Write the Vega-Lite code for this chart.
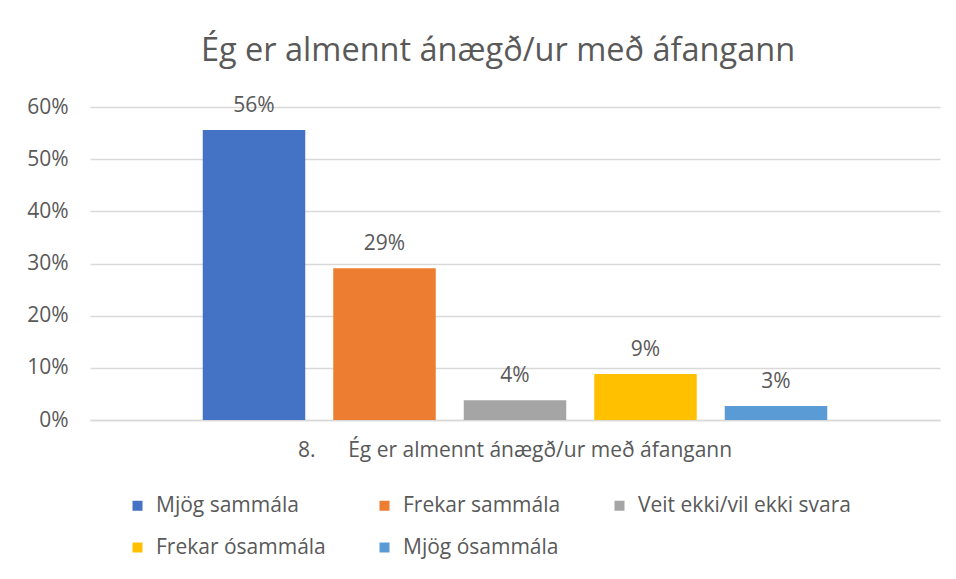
{
  "$schema": "https://vega.github.io/schema/vega-lite/v6.json",
  "width": 850,
  "height": 313,
  "autosize": {"type": "none"},
  "padding": {"left": 90, "top": 107, "right": 16, "bottom": 159},
  "background": "white",
  "config": {
    "font": "Open Sans",
    "view": {"stroke": null}
  },
  "title": {
    "text": "Ég er almennt ánægð/ur með áfangann",
    "fontSize": 32.5,
    "fontWeight": "normal",
    "color": "#595959",
    "anchor": "middle",
    "dx": -17,
    "offset": 27
  },
  "data": {
    "values": [
      {"q": "8.\u00a0\u00a0\u00a0\u00a0\u00a0\u00a0Ég er almennt ánægð/ur með áfangann", "resp": "Mjög sammála", "v": 0.556},
      {"q": "8.\u00a0\u00a0\u00a0\u00a0\u00a0\u00a0Ég er almennt ánægð/ur með áfangann", "resp": "Frekar sammála", "v": 0.291},
      {"q": "8.\u00a0\u00a0\u00a0\u00a0\u00a0\u00a0Ég er almennt ánægð/ur með áfangann", "resp": "Veit ekki/vil ekki svara", "v": 0.038},
      {"q": "8.\u00a0\u00a0\u00a0\u00a0\u00a0\u00a0Ég er almennt ánægð/ur með áfangann", "resp": "Frekar ósammála", "v": 0.088},
      {"q": "8.\u00a0\u00a0\u00a0\u00a0\u00a0\u00a0Ég er almennt ánægð/ur með áfangann", "resp": "Mjög ósammála", "v": 0.027}
    ]
  },
  "encoding": {
    "x": {
      "field": "q",
      "type": "nominal",
      "scale": {"paddingInner": 0, "paddingOuter": 0},
      "axis": {
        "title": null,
        "labelAngle": 0,
        "labelFontSize": 21,
        "labelColor": "#595959",
        "labelPadding": 19,
        "labelLimit": 0,
        "ticks": false,
        "domain": true,
        "domainColor": "#d9d9d9",
        "domainWidth": 1.5
      }
    },
    "xOffset": {
      "field": "resp",
      "type": "nominal",
      "sort": ["Mjög sammála", "Frekar sammála", "Veit ekki/vil ekki svara", "Frekar ósammála", "Mjög ósammála"],
      "scale": {"paddingInner": 0.2146, "paddingOuter": 0.864}
    },
    "y": {
      "field": "v",
      "type": "quantitative",
      "scale": {"domain": [0, 0.6]},
      "axis": {
        "title": null,
        "values": [0, 0.1, 0.2, 0.3, 0.4, 0.5, 0.6],
        "format": ".0%",
        "labelFontSize": 21,
        "labelColor": "#595959",
        "labelPadding": 22,
        "ticks": false,
        "domain": false,
        "gridColor": "#d9d9d9",
        "gridWidth": 1.5
      }
    }
  },
  "layer": [
    {
      "mark": {"type": "bar"},
      "encoding": {
        "color": {
          "field": "resp",
          "type": "nominal",
          "scale": {
            "domain": ["Mjög sammála", "Frekar sammála", "Veit ekki/vil ekki svara", "Frekar ósammála", "Mjög ósammála"],
            "range": ["#4472C4", "#ED7D31", "#A5A5A5", "#FFC000", "#5B9BD5"]
          },
          "legend": {
            "title": null,
            "orient": "none",
            "legendX": 37,
            "legendY": 388,
            "direction": "horizontal",
            "columns": 3,
            "columnPadding": 48,
            "rowPadding": 20,
            "symbolType": "square",
            "symbolSize": 100,
            "symbolStrokeWidth": 0,
            "labelFontSize": 21,
            "labelColor": "#595959",
            "labelOffset": 8,
            "labelLimit": 0,
            "padding": 0
          }
        }
      }
    },
    {
      "mark": {"type": "text", "baseline": "alphabetic", "dy": -18, "fontSize": 21, "color": "#595959"},
      "encoding": {
        "text": {"field": "v", "type": "quantitative", "format": ".0%"}
      }
    }
  ]
}
